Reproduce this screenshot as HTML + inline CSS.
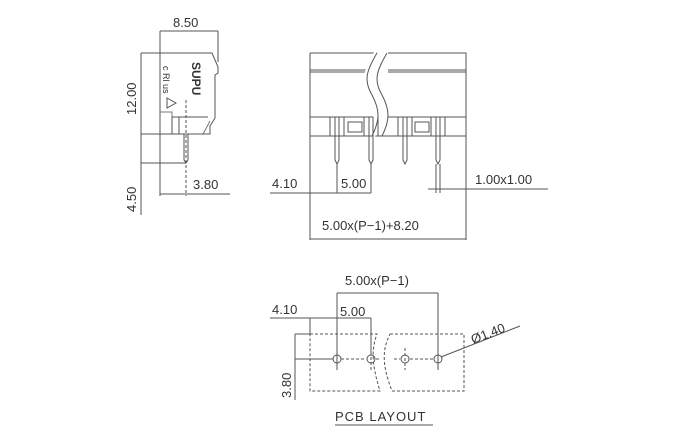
<!DOCTYPE html>
<html><head><style>
body{margin:0;background:#fff}
svg{display:block}
text{font-family:"Liberation Sans",sans-serif;font-size:13px;fill:#333}
</style></head><body>
<svg width="680" height="440" viewBox="0 0 680 440" xmlns="http://www.w3.org/2000/svg" fill="none" stroke="#555" stroke-width="1">
<!-- SIDE VIEW -->
<line x1="160" y1="31" x2="218" y2="31"/>
<line x1="218" y1="31" x2="218" y2="62"/>
<text x="173" y="27" stroke="none">8.50</text>
<line x1="160" y1="31" x2="160" y2="196"/>
<path d="M141 53 H212 L218 67 V73 L215 75 V118 L210 126 V134 H160"/>
<path d="M172 134 V117 H208"/>
<path d="M172 117 V112 H160" stroke="#777"/>
<line x1="179" y1="117" x2="179" y2="134"/>
<path d="M203 134 L210 121" stroke="#777"/>
<path d="M184 134 V160 L186 163 L188 160 V134"/>
<line x1="186" y1="100" x2="186" y2="196" stroke-dasharray="3 2"/>
<line x1="141" y1="53" x2="141" y2="215"/>
<line x1="141" y1="134" x2="172" y2="134"/>
<line x1="141" y1="163" x2="186" y2="163"/>
<text transform="translate(136,115) rotate(-90)" stroke="none">12.00</text>
<text transform="translate(136,212) rotate(-90)" stroke="none">4.50</text>
<line x1="160" y1="194" x2="230" y2="194"/>
<text x="193" y="189" stroke="none">3.80</text>
<text transform="translate(192,62) rotate(90)" stroke="none" style="font-size:12px;font-weight:bold">SUPU</text>
<text transform="translate(163,66) rotate(90)" stroke="none" style="font-size:9px">c Rl us</text>
<path d="M167 98 L176 103 L167 108 Z" stroke="#555"/>
<!-- FRONT VIEW -->
<path d="M310 53 V136 H466 V53 H388"/>
<path d="M310 53 H377"/>
<line x1="310" y1="70" x2="370" y2="70"/><line x1="310" y1="72" x2="369" y2="72"/>
<line x1="388" y1="70" x2="466" y2="70"/><line x1="388" y1="72" x2="466" y2="72"/>
<line x1="310" y1="117" x2="378" y2="117"/><line x1="388" y1="117" x2="466" y2="117"/>
<path d="M377 53 C367 70,363 80,372 95 C380 110,380 120,372 136" fill="#fff" stroke="#fff" stroke-width="6"/>
<path d="M377 53 C367 70,363 80,372 95 C380 110,380 120,372 136"/>
<path d="M387 53 C377 70,373 80,382 95 C390 110,390 120,382 136"/>
<g>
<path d="M335 117 V160 L337 164 L339 160 V117"/><path d="M330 117 V136 M344 117 V136"/>
<path d="M369 117 V160 L371 164 L373 160 V117"/><path d="M364 117 V136 M378 117 V136"/>
<path d="M403 117 V160 L405 164 L407 160 V117"/><path d="M398 117 V136 M412 117 V136"/>
<path d="M436 117 V160 L438 164 L440 160 V117"/><path d="M431 117 V136 M445 117 V136"/>
<rect x="348" y="122" width="14" height="10"/><rect x="415" y="122" width="14" height="10"/>
</g>
<line x1="310" y1="136" x2="310" y2="240"/><line x1="466" y1="136" x2="466" y2="240"/>
<line x1="337" y1="164" x2="337" y2="193"/><line x1="371" y1="164" x2="371" y2="193"/>
<line x1="270" y1="193" x2="371" y2="193"/>
<text x="272" y="188" stroke="none">4.10</text>
<text x="341" y="188" stroke="none">5.00</text>
<line x1="436" y1="164" x2="436" y2="193"/><line x1="440" y1="164" x2="440" y2="193"/>
<line x1="428" y1="189" x2="548" y2="189"/>
<text x="475" y="184" stroke="none">1.00x1.00</text>
<line x1="310" y1="239" x2="466" y2="239"/>
<text x="322" y="230" stroke="none">5.00x(P−1)+8.20</text>
<!-- PCB -->
<text x="345" y="285" stroke="none">5.00x(P−1)</text>
<line x1="337" y1="293" x2="438" y2="293"/>
<line x1="337" y1="293" x2="337" y2="370"/><line x1="438" y1="293" x2="438" y2="370"/>
<text x="272" y="314" stroke="none">4.10</text>
<text x="340" y="316" stroke="none">5.00</text>
<line x1="270" y1="318" x2="371" y2="318"/>
<line x1="310" y1="318" x2="310" y2="334"/><line x1="371" y1="318" x2="371" y2="352"/>
<path d="M310 334 H377 C371 350,372 365,380 391 H310 Z" stroke-dasharray="3 2"/>
<path d="M390 334 H464 V391 H392 C382 365,382 350,390 334" stroke-dasharray="3 2"/>
<line x1="295" y1="334" x2="295" y2="400"/>
<line x1="295" y1="334" x2="310" y2="334"/><line x1="295" y1="359" x2="333" y2="359"/>
<text transform="translate(291,398) rotate(-90)" stroke="none">3.80</text>
<g stroke-dasharray="3 2">
<line x1="341" y1="359" x2="366" y2="359"/><line x1="376" y1="359" x2="381" y2="359"/>
<line x1="394" y1="359" x2="400" y2="359"/><line x1="410" y1="359" x2="433" y2="359"/>
<line x1="405" y1="348" x2="405" y2="370"/><line x1="371" y1="352" x2="371" y2="370"/>
</g>
<circle cx="337" cy="359" r="4"/><circle cx="371" cy="359" r="4"/>
<circle cx="405" cy="359" r="4"/><circle cx="438" cy="359" r="4"/>
<line x1="441" y1="357" x2="520" y2="326"/>
<text transform="translate(473,344) rotate(-21)" stroke="none">Ø1.40</text>
<text x="335" y="421" stroke="none" style="letter-spacing:1px">PCB LAYOUT</text>
<line x1="335" y1="425" x2="433" y2="425"/>
</svg>
</body></html>
